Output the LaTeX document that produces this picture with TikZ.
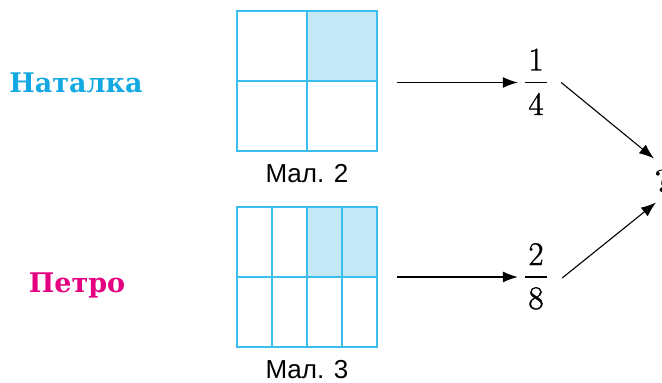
\documentclass[tikz,border=0pt]{standalone}
\usepackage{fontspec}
\usetikzlibrary{arrows.meta}
\newfontfamily\namefont{DejaVu Serif}
\newfontface\digitfont{Latin Modern Roman}[FakeBold=1.2]
\setsansfont{Liberation Sans}
\definecolor{gridline}{RGB}{60,190,235}
\definecolor{gridfill}{RGB}{197,232,247}
\definecolor{nameA}{RGB}{20,168,226}
\definecolor{nameB}{RGB}{228,0,128}
\tikzset{
  gridbox/.style={draw=gridline, line width=1.3pt, minimum width=140pt, minimum height=140pt, inner sep=0pt},
  gridl/.style={draw=gridline, line width=1.3pt},
  caption/.style={font=\sffamily\fontsize{26}{30}\selectfont, anchor=base, inner sep=0pt},
  namestyle/.style={font=\namefont\bfseries\fontsize{27}{30}\selectfont, anchor=base, inner sep=0pt},
  digit/.style={font=\digitfont\fontsize{33}{36}\selectfont, anchor=base, inner sep=0pt},
  barnode/.style={minimum width=22pt, minimum height=0pt, inner sep=0pt},
  fracbar/.style={line width=1.5pt},
  arr/.style={-{Latex[length=15pt,width=11pt]}, line width=1.1pt},
}
\begin{document}
\begin{tikzpicture}[x=1pt,y=-1pt]
\useasboundingbox (0,0) rectangle (662,383);
% grid 1
\fill[gridfill] (307,11) rectangle (377,81);
\node[gridbox] (g1) at (307,81) {};
\draw[gridl] (g1.north) -- (g1.south);
\draw[gridl] (g1.west) -- (g1.east);
% grid 2
\fill[gridfill] (307,207) rectangle (377,277);
\node[gridbox] (g2) at (307,277) {};
\draw[gridl] (g2.west) -- (g2.east);
\draw[gridl] ([xshift=-35pt]g2.north) -- ([xshift=-35pt]g2.south);
\draw[gridl] (g2.north) -- (g2.south);
\draw[gridl] ([xshift=35pt]g2.north) -- ([xshift=35pt]g2.south);
% captions
\node[caption] (c1) at (307,182) {Мал. 2};
\node[caption] (c2) at (307,378) {Мал. 3};
% names
\node[namestyle, text=nameA] (n1) at (76,92) {Наталка};
\node[namestyle, text=nameB] (n2) at (77,292) {Петро};
% fraction 1/4
\node[barnode] (f1) at (536,82.5) {};
\draw[fracbar] (f1.west) -- (f1.east);
\node[digit] (f1n) at (536,70.5) {1};
\node[digit] (f1d) at (536,115) {4};
% fraction 2/8
\node[barnode] (f2) at (536,277) {};
\draw[fracbar] (f2.west) -- (f2.east);
\node[digit] (f2n) at (536,265) {2};
\node[digit] (f2d) at (536,309) {8};
% question mark
\node[font=\bfseries\fontsize{32}{36}\selectfont, anchor=west, inner sep=0pt] (q) at (654,181.5) {?};
% arrows
\draw[arr] ([xshift=19pt]g1.east |- f1.west) -- ([xshift=-7pt]f1.west);
\draw[arr] ([xshift=19pt]g2.east |- f2.west) -- ([xshift=-7pt]f2.west);
\draw[arr] ([xshift=14pt]f1.east) -- ([shift={(0,-23)}]q.west);
\draw[arr] ([shift={(15,1)}]f2.east) -- ([shift={(2,21)}]q.west);
\end{tikzpicture}
\end{document}
